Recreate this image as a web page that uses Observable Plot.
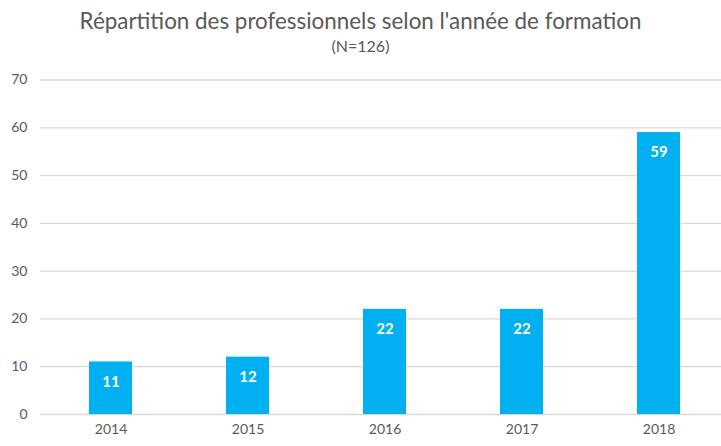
<!DOCTYPE html>
<html><head><meta charset="utf-8">
<script src="https://cdn.jsdelivr.net/npm/d3@7"></script>
<script src="https://cdn.jsdelivr.net/npm/@observablehq/plot@0.6"></script>
<style>
body{margin:0;background:#fff;font-family:Lato,"Open Sans",sans-serif;overflow:hidden}
#title{height:62px;text-align:center;color:#595959;position:relative}
#title .t{position:absolute;left:0;right:0;top:7px;font-size:22.4px}
#title .s{position:absolute;left:0;right:0;top:36px;font-size:16px}
</style></head><body>
<div id="title"><div class="t">Répartition des professionnels selon l'année de formation</div><div class="s">(N=126)</div></div>
<div id="chart"></div>
<script>
const years = ["2014","2015","2016","2017","2018"];
const counts = [11,12,22,22,59];
const yTicks = [0,10,20,30,40,50,60,70];
const data = years.map((y,i)=>({year:y,count:counts[i]}));
const chart = Plot.plot({
  width:721, height:384,
  marginLeft:40, marginRight:-7, marginTop:17.5, marginBottom:32,
  style:{fontFamily:"Lato, 'Open Sans', sans-serif", fontSize:"14px", color:"#595959", background:"#fff"},
  x:{domain:years, paddingInner:0.687, paddingOuter:0.3435, label:null, tickSize:0, tickPadding:10},
  y:{domain:[0,70], ticks:yTicks, label:null, tickSize:0, tickPadding:13},
  marks:[
    Plot.ruleY(yTicks,{stroke:"#d9d9d9", strokeWidth:1.3}),
    Plot.barY(data,{x:"year", y:"count", fill:"#00B0F0"}),
    Plot.text(data,{x:"year", y:"count", text:d=>String(d.count), dy:20, fill:"white", fontWeight:"bold", fontSize:15})
  ]
});
document.getElementById("chart").appendChild(chart);
</script></body></html>
